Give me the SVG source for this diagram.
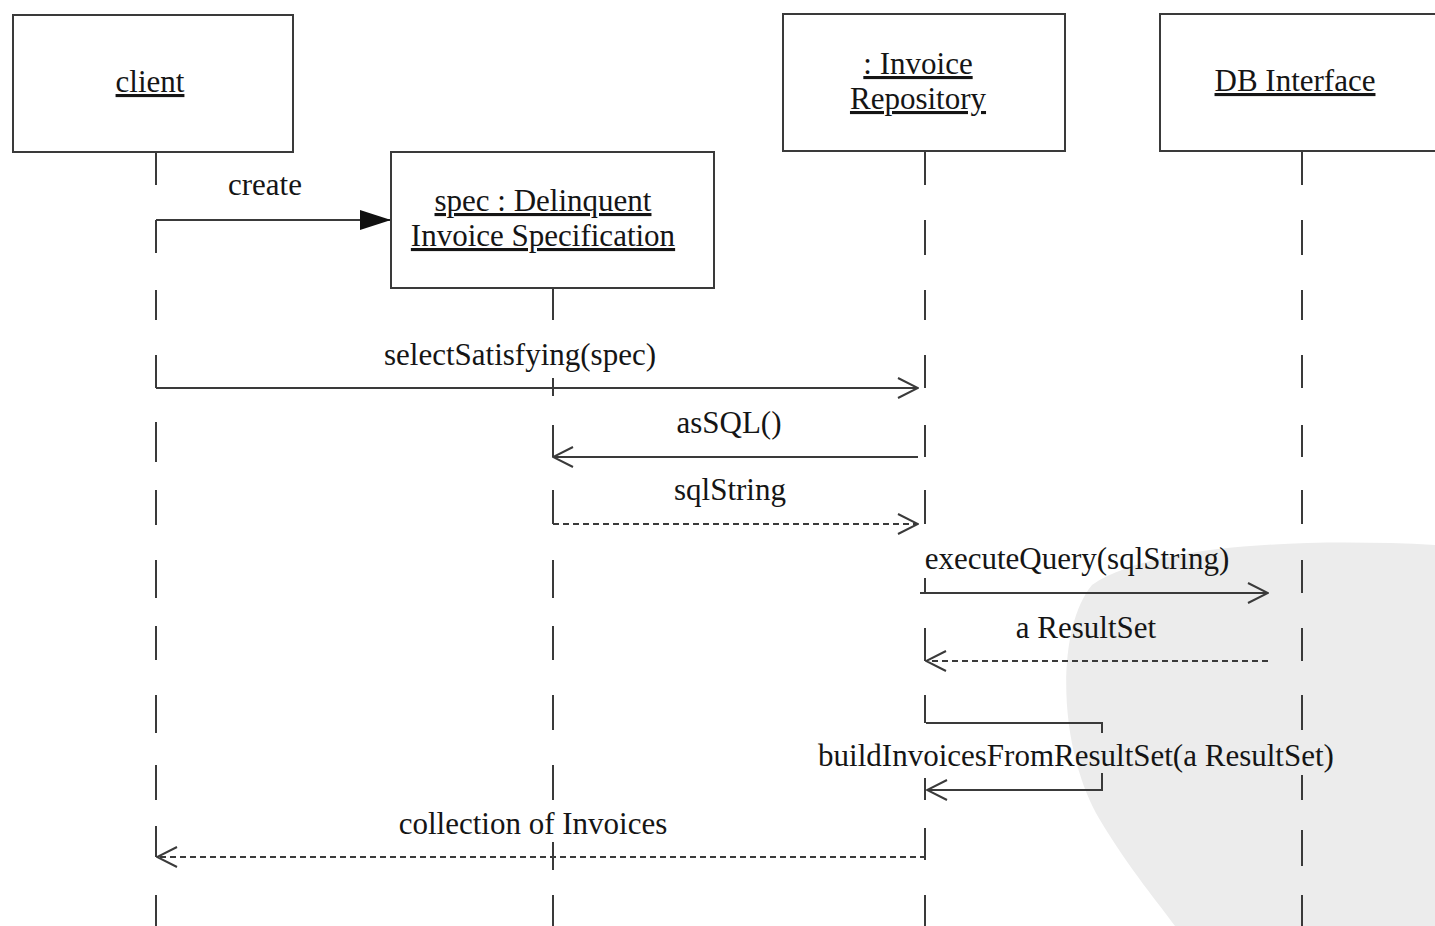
<svg xmlns="http://www.w3.org/2000/svg" width="1435" height="926" viewBox="0 0 1435 926">
<style>
.box{fill:#fff;stroke:#3a3a3a;stroke-width:2}
.t{font-family:"Liberation Serif","Times New Roman",serif;font-size:31px;fill:#151515;text-anchor:middle}
.u{text-decoration:underline}
.life{stroke:#3a3a3a;stroke-width:2;fill:none}
.msg{stroke:#3a3a3a;stroke-width:2;fill:none}
.dash{stroke-dasharray:6 4}
</style>
<defs>
<marker id="open" viewBox="0 0 22 22" refX="21" refY="11" markerWidth="22" markerHeight="22" markerUnits="userSpaceOnUse" orient="auto">
<path d="M1,1 L21,11 L1,21" fill="none" stroke="#3a3a3a" stroke-width="2"/>
</marker>
<marker id="filled" viewBox="0 0 32 22" refX="31" refY="11" markerWidth="32" markerHeight="22" markerUnits="userSpaceOnUse" orient="auto">
<path d="M0,1 L31,11 L0,21 Z" fill="#111"/>
</marker>
</defs>
<rect width="1435" height="926" fill="#fff"/>
<path d="M1435,545 C1300,538 1150,545 1092,585 C1055,630 1058,750 1100,820 C1130,870 1160,905 1175,926 L1435,926 Z" fill="#ececec"/>
<g id="connectors">
<path class="life" d="M156,152V185M156,220V253M156,290V320M156,355V388M156,422V462M156,490V525M156,560V598M156,626V660M156,695V733M156,765V800M156,826V857M156,895V926"/>
<path class="life" d="M553,288V320M553,378V396M553,425V457M553,490V524M553,560V598M553,626V660M553,695V730M553,765V800M553,842V870M553,895V926"/>
<path class="life" d="M925,151V185M925,220V255M925,290V320M925,355V388M925,425V457M925,490V524M925,578V593M925,628V661M925,695V723M925,778V800M925,828V860M925,895V926"/>
<path class="life" d="M1302,151V185M1302,220V255M1302,290V320M1302,355V388M1302,425V457M1302,490V524M1302,560V593M1302,628V661M1302,695V730M1302,775V800M1302,830V866M1302,895V926"/>
<line class="msg" x1="156" y1="220" x2="391" y2="220" marker-end="url(#filled)"/>
<line class="msg" x1="156" y1="388" x2="918" y2="388" marker-end="url(#open)"/>
<line class="msg" x1="918" y1="457" x2="553" y2="457" marker-end="url(#open)"/>
<line class="msg dash" x1="553" y1="524" x2="918" y2="524" marker-end="url(#open)"/>
<line class="msg" x1="920" y1="593" x2="1268" y2="593" marker-end="url(#open)"/>
<line class="msg dash" x1="1268" y1="661" x2="926" y2="661" marker-end="url(#open)"/>
<path class="msg" d="M926,723 H1102 V733 M1102,773 V790 H927" marker-end="url(#open)"/>
<line class="msg dash" x1="926" y1="857" x2="157" y2="857" marker-end="url(#open)"/>
<text class="t" x="265" y="195">create</text>
<text class="t" x="520" y="365">selectSatisfying(spec)</text>
<text class="t" x="729" y="433">asSQL()</text>
<text class="t" x="730" y="500">sqlString</text>
<text class="t" x="1077" y="569">executeQuery(sqlString)</text>
<text class="t" x="1086" y="638">a ResultSet</text>
<text class="t" x="1076" y="766">buildInvoicesFromResultSet(a ResultSet)</text>
<text class="t" x="533" y="834">collection of Invoices</text>
</g>
<g id="client">
<rect class="box" x="13" y="15" width="280" height="137"/>
<text class="t u" x="150" y="92">client</text>
</g>
<g id="spec">
<rect class="box" x="391" y="152" width="323" height="136"/>
<text class="t u" x="543" y="211">spec : Delinquent</text>
<text class="t u" x="543" y="246">Invoice Specification</text>
</g>
<g id="repository">
<rect class="box" x="783" y="14" width="282" height="137"/>
<text class="t u" x="918" y="74">: Invoice</text>
<text class="t u" x="918" y="109">Repository</text>
</g>
<g id="db">
<rect class="box" x="1160" y="14" width="290" height="137"/>
<text class="t u" x="1295" y="91">DB Interface</text>
</g>
</svg>
